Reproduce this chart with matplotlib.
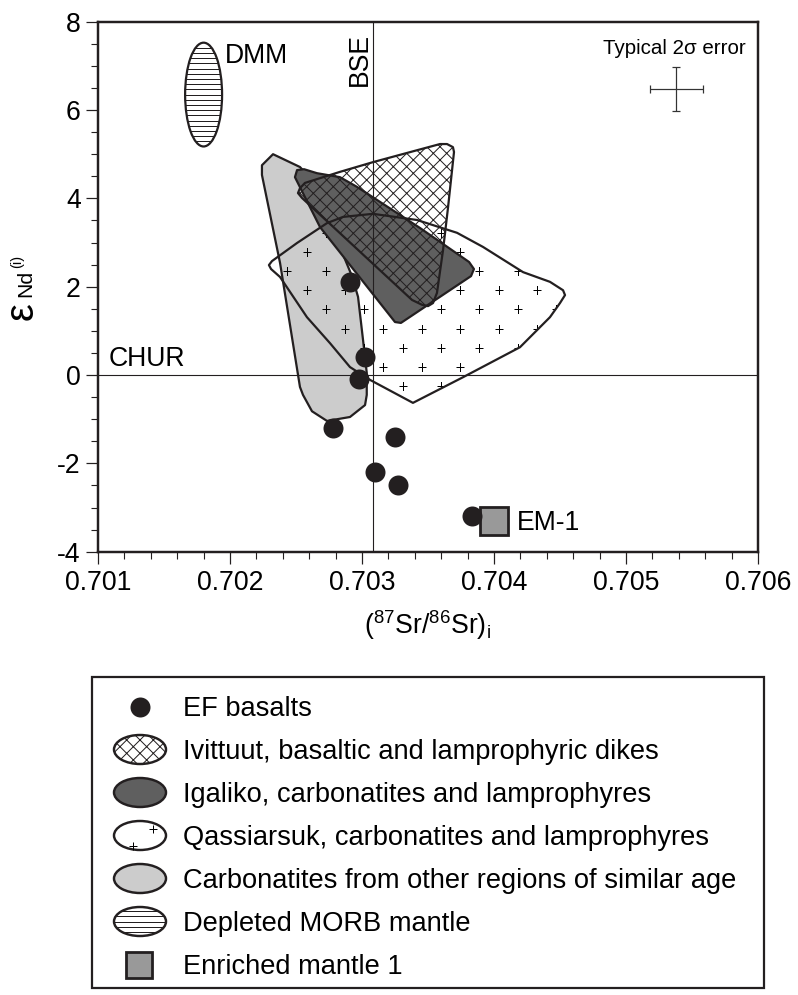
import numpy as np
import matplotlib
matplotlib.use("Agg")
import matplotlib.pyplot as plt
from matplotlib.patches import Polygon, Ellipse, Rectangle
from matplotlib.ticker import MultipleLocator

plt.rcParams["font.family"] = ["Liberation Sans", "DejaVu Sans"]
plt.rcParams["mathtext.fontset"] = "custom"
plt.rcParams["mathtext.rm"] = "Liberation Sans"
plt.rcParams["mathtext.it"] = "Liberation Sans:italic"
plt.rcParams["mathtext.bf"] = "Liberation Sans:bold"
plt.rcParams["hatch.linewidth"] = 0.9

INK = "#231f20"
LIGHT = "#cccccc"
DARK = "#5f5f5f"
EM_GREY = "#999999"

# ---- data -------------------------------------------------------------
# EF basalts
ef_sr = [0.70291, 0.70302, 0.70298, 0.70278, 0.70325, 0.70310, 0.70327, 0.70383]
ef_nd = [2.1, 0.4, -0.1, -1.2, -1.4, -2.2, -2.5, -3.2]

# Carbonatites from other regions of similar age
carb_sr = [0.702326, 0.702530, 0.702621, 0.702795, 0.702924, 0.702970, 0.703008,
           0.703036, 0.703036, 0.703023, 0.702909, 0.702735, 0.702621, 0.702553,
           0.702530, 0.702379, 0.702242, 0.702242]
carb_nd = [5.00, 4.71, 4.42, 3.17, 2.24, 1.77, 0.79,
           0.05, -0.45, -0.68, -0.95, -1.04, -0.82, -0.45,
           -0.27, 2.54, 4.53, 4.75]

# Qassiarsuk, carbonatites and lamprophyres
qas_sr = [0.702295, 0.702318, 0.702508, 0.702735, 0.702856, 0.703083, 0.703417,
          0.703720, 0.703917, 0.704220, 0.704424, 0.704523, 0.704538, 0.704500,
          0.704424, 0.704197, 0.703765, 0.703386, 0.703061, 0.702909, 0.702758,
          0.702583, 0.702379, 0.702311]
qas_nd = [2.49, 2.58, 2.99, 3.44, 3.58, 3.65, 3.51,
          3.22, 2.90, 2.33, 2.11, 1.92, 1.81, 1.63,
          1.31, 0.63, -0.05, -0.63, -0.11, 0.18, 0.72,
          1.31, 2.22, 2.40]

# Igaliko, carbonatites and lamprophyres
iga_sr = [0.702492, 0.702508, 0.702561, 0.702659, 0.702833, 0.702962, 0.703439,
          0.703811, 0.703848, 0.703826, 0.703295, 0.703250, 0.702682]
iga_nd = [4.48, 4.64, 4.66, 4.57, 4.48, 4.26, 3.33,
          2.56, 2.40, 2.24, 1.18, 1.20, 3.35]

# Ivittuut, basaltic and lamprophyric dikes
ivi_sr = [0.703591, 0.703644, 0.703689, 0.703697, 0.703652, 0.703614, 0.703568,
          0.703538, 0.703500, 0.703455, 0.703379, 0.702545, 0.702515, 0.702530,
          0.702568, 0.702833, 0.703083, 0.703417]
ivi_nd = [5.23, 5.23, 5.16, 5.05, 3.80, 2.83, 1.86,
          1.63, 1.56, 1.59, 1.70, 4.01, 4.12, 4.23,
          4.35, 4.60, 4.82, 5.09]

# Depleted MORB mantle field (centre, width, height)
dmm_sr, dmm_nd = 0.7018, 6.35
dmm_w, dmm_h = 0.00028, 2.35

# Enriched mantle 1
em1_sr, em1_nd = 0.7040, -3.3

# Reference lines
bse_sr = 0.70308
chur_nd = 0.0

# Typical 2 sigma error
err_sr, err_nd = 0.70538, 6.47
err_dsr, err_dnd = 0.0002, 0.5

legend_labels = [
    "EF basalts",
    "Ivittuut, basaltic and lamprophyric dikes",
    "Igaliko, carbonatites and lamprophyres",
    "Qassiarsuk, carbonatites and lamprophyres",
    "Carbonatites from other regions of similar age",
    "Depleted MORB mantle",
    "Enriched mantle 1",
]

# ---- figure -------------------------------------------------------------
W, H, DPI = 798, 995, 80
fig = plt.figure(figsize=(W / DPI, H / DPI), dpi=DPI)
fig.patch.set_facecolor("white")

ax = fig.add_axes([98 / W, 1 - 551.7 / H, 660 / W, 530 / H])
ax.set_xlim(0.701, 0.706)
ax.set_ylim(-4, 8)

# overlay in pixel units for the axis titles and legend panel
ov = fig.add_axes([0, 0, 1, 1], zorder=-1)
ov.set_xlim(0, W)
ov.set_ylim(H, 0)
ov.axis("off")

# light grey field
carb = Polygon(np.column_stack([carb_sr, carb_nd]), closed=True, fc=LIGHT,
               ec=INK, lw=2.0, joinstyle="round", zorder=2)
ax.add_patch(carb)

# Qassiarsuk field: outline plus "+" texture
qas = Polygon(np.column_stack([qas_sr, qas_nd]), closed=True, fc="none",
              ec=INK, lw=2.0, joinstyle="round", zorder=4.5)
ax.add_patch(qas)
dx, dy = 0.0001455, 0.4347
x0, y0 = 0.703017, 2.355
px, py = [], []
for r in range(-8, 8):
    for k in range(-14, 14):
        px.append(x0 + (2 * k + (r % 2)) * dx)
        py.append(y0 + r * dy)
plus, = ax.plot(px, py, ls="none", marker="+", ms=7.5, mew=0.9, color="black",
                zorder=3)
plus.set_clip_path(qas)

# Igaliko field
iga = Polygon(np.column_stack([iga_sr, iga_nd]), closed=True, fc=DARK,
              ec=INK, lw=2.0, joinstyle="round", zorder=4)
ax.add_patch(iga)

# Ivittuut field (cross-hatched)
ivi = Polygon(np.column_stack([ivi_sr, ivi_nd]), closed=True, fc="none",
              ec=INK, lw=2.0, joinstyle="round", hatch="xx", zorder=5)
ax.add_patch(ivi)

# DMM ellipse with horizontal ruling
dmm = Ellipse((dmm_sr, dmm_nd), dmm_w, dmm_h, fc="white", ec=INK, lw=2.0, zorder=5)
ax.add_patch(dmm)
step = 0.118
ys = dmm_nd + step * np.arange(-12, 13)
rules = ax.hlines(ys, dmm_sr - dmm_w, dmm_sr + dmm_w, colors=INK, lw=0.9, zorder=5.1)
rules.set_clip_path(dmm)

# reference lines
ax.axvline(bse_sr, color=INK, lw=1.0, zorder=5.5)
ax.axhline(chur_nd, color=INK, lw=1.0, zorder=5.5)

# EM-1 and basalts
ax.plot([em1_sr], [em1_nd], marker="s", ms=26, mfc=EM_GREY, mec=INK, mew=2.5,
        ls="none", zorder=6.5)
ax.plot(ef_sr, ef_nd, "o", ms=18, color=INK, mew=0, zorder=7)

# error cross
ax.errorbar([err_sr], [err_nd], xerr=err_dsr, yerr=err_dnd, fmt="none",
            ecolor="#333333", elinewidth=1.1, capsize=3.4, capthick=1.1, zorder=7)

# annotations
ax.text(0.701962, 7.06, "DMM", fontsize=24, va="baseline", ha="left", zorder=8)
ax.text(bse_sr, 7.74, "BSE", fontsize=24, rotation=90, ha="right", va="top", zorder=8)
ax.text(0.70108, 0.2, "CHUR", fontsize=24, va="baseline", ha="left", zorder=8)
ax.text(0.70417, -3.5, "EM-1", fontsize=24, va="baseline", ha="left", zorder=8)
ax.text(0.70591, 7.26, "Typical 2σ error", fontsize=18.5, ha="right",
        va="baseline", zorder=8)

# axes styling
for sp in ax.spines.values():
    sp.set_linewidth(2.2)
    sp.set_color(INK)
ax.xaxis.set_major_locator(MultipleLocator(0.001))
ax.xaxis.set_minor_locator(MultipleLocator(0.0002))
ax.yaxis.set_major_locator(MultipleLocator(2))
ax.yaxis.set_minor_locator(MultipleLocator(0.5))
ax.xaxis.set_major_formatter(plt.FuncFormatter(lambda v, p: f"{v:.3f}"))
ax.yaxis.set_major_formatter(plt.FuncFormatter(lambda v, p: f"{v:.0f}"))
ax.tick_params(which="major", direction="out", length=10.5, width=1.1,
               labelsize=24, color=INK, top=False, right=False)
ax.tick_params(which="minor", direction="out", length=6, width=1.0,
               color=INK, top=False, right=False)
ax.tick_params(axis="x", which="major", pad=6)
ax.tick_params(axis="y", which="major", pad=5)

# axis titles
ov.text(428, 625, r"($^{87}$Sr/$^{86}$Sr)$_\mathrm{i}$", fontsize=24,
        ha="center", va="center")
ov.text(22, 311, "ε", fontsize=36, rotation=90, ha="center", va="center")
ov.text(26, 283, "Nd", fontsize=19, rotation=90, ha="center", va="center")
ov.text(17, 261, "(i)", fontsize=13, rotation=90, ha="center", va="center")

# ---- legend panel -------------------------------------------------------
ov.add_patch(Rectangle((92, 677), 672, 311, fill=False, ec=INK, lw=2.0))
sym_x, txt_x = 140, 183
row0, row_step = 706.5, 43.0
ew, eh = 52, 29
for i, lab in enumerate(legend_labels):
    yc = row0 + i * row_step
    if i == 0:
        ov.plot([sym_x], [yc], "o", ms=18, color=INK, mew=0)
    elif i == 1:
        ov.add_patch(Ellipse((sym_x, yc), ew, eh, fc="white", ec=INK, lw=2.2, hatch="xx"))
    elif i == 2:
        ov.add_patch(Ellipse((sym_x, yc), ew, eh, fc=DARK, ec=INK, lw=2.2))
    elif i == 3:
        ov.add_patch(Ellipse((sym_x, yc), ew, eh, fc="white", ec=INK, lw=2.2))
        ov.plot([sym_x + 13, sym_x - 7], [yc - 7, yc + 10], ls="none", marker="+",
                ms=7.5, mew=0.9, color="black")
    elif i == 4:
        ov.add_patch(Ellipse((sym_x, yc), ew, eh, fc=LIGHT, ec=INK, lw=2.2))
    elif i == 5:
        e = Ellipse((sym_x, yc), ew, eh, fc="white", ec=INK, lw=2.2, zorder=2)
        ov.add_patch(e)
        ly = yc + 5.3 * np.arange(-3, 4)
        lines = ov.hlines(ly, sym_x - ew, sym_x + ew, colors=INK, lw=0.9, zorder=2.1)
        lines.set_clip_path(e)
    else:
        ov.plot([sym_x - 1], [yc], "s", ms=24, mfc=EM_GREY, mec=INK, mew=2.5)
    ov.text(txt_x, yc + 9.6, lab, fontsize=24.5, ha="left", va="baseline")

fig.savefig("out.png", dpi=DPI, facecolor="white")
